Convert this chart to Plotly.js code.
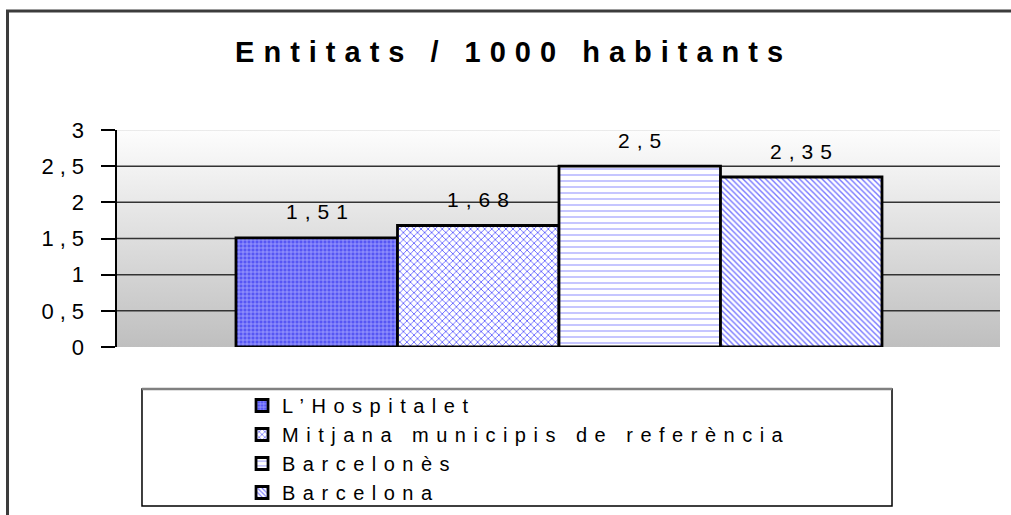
<!DOCTYPE html>
<html><head><meta charset="utf-8">
<script src="https://cdn.plot.ly/plotly-3.0.1.min.js"></script>
<style>
html,body{margin:0;padding:0;background:#fff;}
#chart{width:1011px;height:515px;}
.gtitle{letter-spacing:9px !important;}
.annotation-text{letter-spacing:7px !important;}
.legendtext{letter-spacing:7.5px !important;}
.ytick text{letter-spacing:6px !important;}
</style></head><body><div id="chart"></div>
<script>
// ---- data ----
const seriesNames = ["L\u2019Hospitalet", "Mitjana municipis de refer\u00e8ncia", "Barcelon\u00e8s", "Barcelona"];
const seriesValues = [1.51, 1.68, 2.5, 2.35];
const yTickValues = [0, 0.5, 1, 1.5, 2, 2.5, 3];
const yTickLabels = ["0", "0,5", "1", "1,5", "2", "2,5", "3"];
const gridValues = [0.5, 1, 1.5, 2, 2.5];
const titleText = "Entitats / 1000 habitants";

// ---- styles ----
const seriesStyles = [
  {shape: '+', bg: '#5656f4', fg: '#a8a8ff', size: 4, solidity: 0.35},
  {shape: 'x', bg: '#ffffff', fg: '#5a5aff', size: 5, solidity: 0.3},
  {shape: '-', bg: '#ffffff', fg: '#a0a0ff', size: 6, solidity: 0.2},
  {shape: '\\', bg: '#ffffff', fg: '#7676ff', size: 4, solidity: 0.35}
];
const FONT = '"Liberation Sans", Arial, sans-serif';

const traces = seriesNames.map((n, i) => ({
  type: 'bar', x: [n], y: [seriesValues[i]], name: n, width: 1,
  hoverinfo: 'skip',
  marker: {
    color: seriesStyles[i].bg,
    line: {color: '#000', width: 2.8},
    pattern: {shape: seriesStyles[i].shape, fgcolor: seriesStyles[i].fg, bgcolor: seriesStyles[i].bg,
              size: seriesStyles[i].size, solidity: seriesStyles[i].solidity, fillmode: 'replace'}
  }
}));

const annotations = seriesNames.map((n, i) => ({
  x: n, y: seriesValues[i], xref: 'x', yref: 'y',
  text: String(seriesValues[i]).replace('.', ','),
  showarrow: false, yanchor: 'middle', yshift: 26, xshift: 3.5,
  font: {family: FONT, size: 21, color: '#000'}
}));

const shapes = [];
gridValues.forEach(v => shapes.push({type: 'line', xref: 'paper', yref: 'y', x0: 0, x1: 1, y0: v, y1: v,
  line: {color: '#333', width: 1.5}, layer: 'below'}));
// faint top edge of the plot area
shapes.push({type: 'line', xref: 'paper', yref: 'y', x0: 0, x1: 1, y0: yTickValues[yTickValues.length - 1],
  y1: yTickValues[yTickValues.length - 1], line: {color: '#e4e4e4', width: 1.5}, layer: 'below'});
// outer frame (continues past the right and bottom edges)
shapes.push({type: 'rect', xref: 'paper', yref: 'paper', x0: -0.124, x1: 1.08, y0: -1.2, y1: 1.5484,
  line: {color: '#3c3c3c', width: 3}, fillcolor: 'rgba(0,0,0,0)'});
// legend box
shapes.push({type: 'rect', xref: 'paper', yref: 'paper', x0: 0.0283, x1: 0.8777, y0: -0.7327, y1: -0.1935,
  line: {color: '#000', width: 1.5}, fillcolor: 'rgba(0,0,0,0)'});
shapes.push({type: 'line', xref: 'paper', yref: 'paper', x0: 0.0283, x1: 0.8777, y0: -0.1935, y1: -0.1935,
  line: {color: '#808080', width: 2.5}});

const layout = {
  width: 1011, height: 515,
  margin: {l: 117, r: 11, t: 130, b: 168, pad: 0, autoexpand: false},
  paper_bgcolor: '#ffffff', plot_bgcolor: '#e0e0e0',
  font: {family: FONT, size: 21, color: '#000'},
  title: {text: titleText, font: {family: FONT, size: 29, weight: 'bold', color: '#000'},
          xref: 'container', x: 0.508, xanchor: 'center', yref: 'container', y: 1 - 52 / 515, yanchor: 'middle'},
  barmode: 'overlay',
  showlegend: true,
  legend: {xref: 'container', yref: 'container', x: 0.2394, y: 1 - 386 / 515, xanchor: 'left', yanchor: 'top',
           bgcolor: 'rgba(0,0,0,0)', borderwidth: 0,
           font: {family: FONT, size: 20, color: '#000'}, traceorder: 'normal'},
  xaxis: {type: 'category', range: [-1.2368, 4.2307], showline: false, showticklabels: false, ticks: '',
          showgrid: false, zeroline: false, fixedrange: true},
  yaxis: {range: [0, 3], tickvals: yTickValues, ticktext: yTickLabels, showline: true, linecolor: '#000', linewidth: 2.5,
          ticks: 'outside', ticklen: 14, tickwidth: 2, tickcolor: '#000', showgrid: false, zeroline: false,
          ticklabelstandoff: 6, tickfont: {family: FONT, size: 22, color: '#000'}, fixedrange: true},
  shapes: shapes,
  annotations: annotations
};

Plotly.newPlot('chart', traces, layout, {displayModeBar: false, staticPlot: true}).then(gd => {
  const svg = gd.querySelector('.main-svg');
  const ns = 'http://www.w3.org/2000/svg';
  let defs = svg.querySelector('defs');
  if (!defs) { defs = document.createElementNS(ns, 'defs'); svg.insertBefore(defs, svg.firstChild); }
  const g = document.createElementNS(ns, 'linearGradient');
  g.setAttribute('id', 'plotBgGrad'); g.setAttribute('x1', '0'); g.setAttribute('y1', '0');
  g.setAttribute('x2', '0'); g.setAttribute('y2', '1');
  [['0', '#fdfdfd'], ['1', '#bfbfbf']].forEach(([o, c]) => {
    const s = document.createElementNS(ns, 'stop'); s.setAttribute('offset', o); s.setAttribute('stop-color', c); g.appendChild(s);
  });
  defs.appendChild(g);
  gd.querySelectorAll('.bglayer rect.bg').forEach(r => { r.style.fill = 'url(#plotBgGrad)'; });
});
</script></body></html>
